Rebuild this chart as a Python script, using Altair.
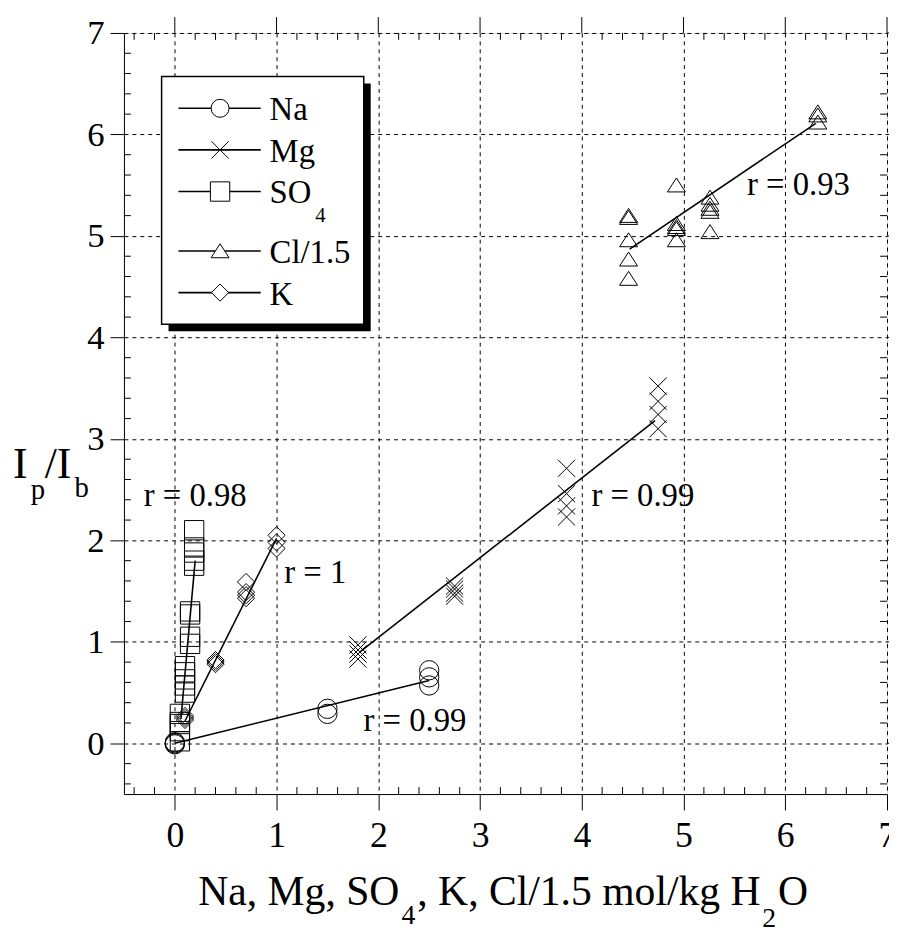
import altair as alt
import pandas as pd

# ---------------- data ----------------
na_x = [0.0, 0.0, 0.0, 1.5, 1.5, 2.5, 2.5, 2.5]
na_y = [0.0, 0.01, -0.01, 0.34, 0.29, 0.72, 0.65, 0.57]
na_line_x = [0.0, 2.5]
na_line_y = [0.0, 0.62]

mg_x = [1.8, 1.8, 1.8, 1.8, 2.75, 2.75, 2.75, 2.75, 3.85, 3.85, 3.85, 3.85, 4.75, 4.75, 4.75, 4.75]
mg_y = [0.97, 0.92, 0.88, 0.83, 1.55, 1.52, 1.48, 1.45, 2.71, 2.46, 2.34, 2.23, 3.52, 3.37, 3.24, 3.10]
mg_line_x = [1.82, 4.72]
mg_line_y = [0.90, 3.18]

so4_x = [0.19, 0.19, 0.19, 0.19, 0.19, 0.15, 0.15, 0.15, 0.15,
         0.10, 0.10, 0.10, 0.10, 0.10, 0.05, 0.05, 0.05, 0.05, 0.05]
so4_y = [2.10, 1.93, 1.88, 1.80, 1.75, 1.30, 1.27, 1.05, 0.98,
         0.76, 0.70, 0.63, 0.57, 0.50, 0.29, 0.21, 0.19, 0.12, 0.02]
so4_line_x = [0.06, 0.20]
so4_line_y = [0.24, 1.80]

k_x = [0.1, 0.1, 0.1, 0.4, 0.4, 0.4, 0.7, 0.7, 0.7, 0.7, 1.0, 1.0, 1.0]
k_y = [0.25, 0.23, 0.27, 0.80, 0.78, 0.82, 1.59, 1.49, 1.46, 1.43, 2.05, 1.98, 1.92]
k_line_x = [0.1, 1.0]
k_line_y = [0.22, 2.02]

cl_x = [4.46, 4.46, 4.46, 4.46, 4.46, 4.93, 4.93, 4.93, 4.93, 4.93,
        5.26, 5.26, 5.26, 5.26, 5.26, 6.32, 6.32, 6.32]
cl_y = [5.20, 5.18, 4.96, 4.77, 4.58, 5.50, 5.12, 5.09, 5.07, 4.96,
        5.38, 5.31, 5.27, 5.24, 5.04, 6.22, 6.19, 6.12]
cl_line_x = [4.47, 6.30]
cl_line_y = [4.87, 6.11]

ann_x = [6.13, 4.60, 2.36, 0.20, 1.38]
ann_y = [5.50, 2.44, 0.22, 2.44, 1.68]
ann_text = ["r = 0.93", "r = 0.99", "r = 0.99", "r = 0.98", "r = 1"]

x_ticks = [0, 1, 2, 3, 4, 5, 6, 7]
y_ticks = [0, 1, 2, 3, 4, 5, 6, 7]
legend_names = ["Na", "Mg", "SO", "Cl/1.5", "K"]

# ---------------- styling ----------------
FONT = "Liberation Serif"
W, H = 770, 768
DOM = [-0.5, 7]

SHAPE_CIRCLE = "circle"
SHAPE_X = "M-1,-1L1,1M-1,1L1,-1"
SHAPE_SQUARE = "square"
SHAPE_TRI = "M-1,0.75L1,0.75L0,-0.8Z"
SHAPE_DIAMOND = "M0,-1L1,0L0,1L-1,0Z"

xenc = alt.X("x:Q", scale=alt.Scale(domain=DOM, nice=False, zero=False),
             axis=alt.Axis(values=x_ticks, title=None, tickSize=16, labelFontSize=36,
                           labelFont=FONT, labelColor="black", labelPadding=9,
                           grid=True, gridDash=[4, 4], gridColor="black", gridWidth=1,
                           tickColor="black", domainColor="black", labelFlush=False))
yenc = alt.Y("y:Q", scale=alt.Scale(domain=DOM, nice=False, zero=False),
             axis=alt.Axis(values=y_ticks, title=None, tickSize=14, labelFontSize=35,
                           labelFont=FONT, labelColor="black", labelPadding=6,
                           grid=True, gridDash=[4, 4], gridColor="black", gridWidth=1,
                           tickColor="black", domainColor="black", labelFlush=False))


def df(xs, ys):
    return pd.DataFrame({"x": xs, "y": ys})


layers = []

# minor / frame ticks
minor = [round(-0.4 + 0.2 * i, 1) for i in range(37)]
minor = [v for v in minor if abs(v - round(v)) > 1e-6]
mx = pd.DataFrame({"x": minor})
my = pd.DataFrame({"y": minor})
mjx = pd.DataFrame({"x": x_ticks})
mjy = pd.DataFrame({"y": y_ticks})
layers.append(alt.Chart(mx).mark_rule(color="black", strokeWidth=1).encode(
    x=xenc, y=alt.value(H), y2=alt.value(H - 7)))
layers.append(alt.Chart(mx).mark_rule(color="black", strokeWidth=1).encode(
    x=xenc, y=alt.value(0), y2=alt.value(7)))
layers.append(alt.Chart(mjx).mark_rule(color="black", strokeWidth=1).encode(
    x=xenc, y=alt.value(-16), y2=alt.value(0)))
layers.append(alt.Chart(my).mark_rule(color="black", strokeWidth=1).encode(
    y=yenc, x=alt.value(0), x2=alt.value(7)))
layers.append(alt.Chart(my).mark_rule(color="black", strokeWidth=1).encode(
    y=yenc, x=alt.value(W), x2=alt.value(W - 7)))
layers.append(alt.Chart(mjy).mark_rule(color="black", strokeWidth=1).encode(
    y=yenc, x=alt.value(W), x2=alt.value(W + 16)))

# regression lines
for lx, ly in [(na_line_x, na_line_y), (mg_line_x, mg_line_y), (so4_line_x, so4_line_y),
               (k_line_x, k_line_y), (cl_line_x, cl_line_y)]:
    layers.append(alt.Chart(df(lx, ly)).mark_line(color="black", strokeWidth=1.6).encode(
        x=xenc, y=yenc))

# points
for xs, ys, shp, sz in [(na_x, na_y, SHAPE_CIRCLE, 380), (mg_x, mg_y, SHAPE_X, 300),
                        (so4_x, so4_y, SHAPE_SQUARE, 380), (k_x, k_y, SHAPE_DIAMOND, 300),
                        (cl_x, cl_y, SHAPE_TRI, 330)]:
    layers.append(alt.Chart(df(xs, ys)).mark_point(
        shape=shp, size=sz, filled=False, color="black", strokeWidth=1, opacity=1).encode(
        x=xenc, y=yenc))

# r annotations
ann = pd.DataFrame({"x": ann_x, "y": ann_y, "t": ann_text})
layers.append(alt.Chart(ann).mark_text(font=FONT, fontSize=33, color="black",
                                       align="center", baseline="middle").encode(
    x=xenc, y=yenc, text="t:N"))

one = alt.Data(values=[{}])

# legend box with shadow
LX0, LY0, LX1, LY1 = 38, 44, 242, 294
layers.append(alt.Chart(one).mark_rect(color="black").encode(
    x=alt.value(LX0 + 7), x2=alt.value(LX1 + 7), y=alt.value(LY0 + 7), y2=alt.value(LY1 + 7)))
layers.append(alt.Chart(one).mark_rect(fill="white", stroke="black", strokeWidth=1.5).encode(
    x=alt.value(LX0), x2=alt.value(LX1), y=alt.value(LY0), y2=alt.value(LY1)))

row_y = [76, 118, 160, 220, 262]
row_shapes = [(SHAPE_CIRCLE, 330), (SHAPE_X, 300), (SHAPE_SQUARE, 380), (SHAPE_TRI, 330), (SHAPE_DIAMOND, 300)]
for name, ry, (shp, sz) in zip(legend_names, row_y, row_shapes):
    layers.append(alt.Chart(one).mark_rule(color="black", strokeWidth=1.6).encode(
        x=alt.value(55), x2=alt.value(138), y=alt.value(ry)))
    layers.append(alt.Chart(one).mark_point(shape=shp, size=sz, filled=True, fill="white",
                                            stroke="black", strokeWidth=1, opacity=1).encode(
        x=alt.value(97), y=alt.value(ry)))
    layers.append(alt.Chart(one).mark_text(text=name, font=FONT, fontSize=33, color="black",
                                           align="left", baseline="middle").encode(
        x=alt.value(147), y=alt.value(ry + 2)))
layers.append(alt.Chart(one).mark_text(text="4", font=FONT, fontSize=21, color="black",
                                       align="left", baseline="middle").encode(
    x=alt.value(193), y=alt.value(185)))

# x title with subscripts
def txt(s, x, y, size, align="left"):
    return alt.Chart(one).mark_text(text=s, font=FONT, fontSize=size, color="black",
                                    align=align, baseline="alphabetic").encode(
        x=alt.value(x), y=alt.value(y))

TB = 880
layers += [
    txt("Na, Mg, SO", 75, TB, 42),
    txt("4", 280, TB + 19, 28),
    txt(", K, Cl/1.5 mol/kg H", 296, TB, 42),
    txt("2", 644, TB + 22, 28),
    txt("O", 660, TB, 42),
    # y title
    txt("I", -112, 449, 44),
    txt("p", -94, 470, 29),
    txt("/I", -80, 449, 44),
    txt("b", -50, 468, 29),
]

chart = alt.layer(*layers).properties(
    width=W, height=H,
    autosize=alt.AutoSizeParams(type="none"),
    padding={"left": 117, "top": 21, "right": 2, "bottom": 135},
).configure_view(stroke="black", strokeWidth=1).configure(background="white")

chart.save("out.html", embed_options={"renderer": "svg", "actions": False})
